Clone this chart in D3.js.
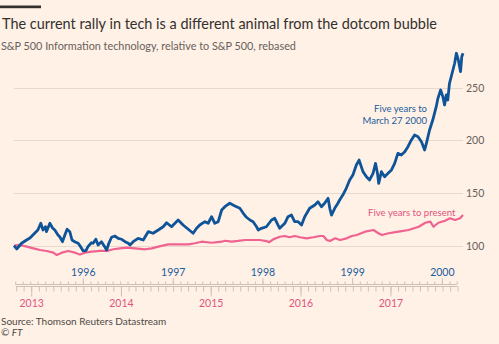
<!DOCTYPE html>
<html><head><meta charset="utf-8">
<script src="https://cdn.jsdelivr.net/npm/d3@7"></script>
<style>
html,body{margin:0;padding:0;background:#fff1e5;}
svg{display:block;}
text{font-family:Lato,"Noto Sans",sans-serif;}
</style></head>
<body><svg id="c" width="499" height="344"></svg>
<script>
// ---- data ----
const titleText = "The current rally in tech is a different animal from the dotcom bubble";
const subtitleText = "S&P 500 Information technology, relative to S&P 500, rebased";
const sourceText = "Source: Thomson Reuters Datastream";
const creditText = "© FT";
const yTicks = [100, 150, 200, 250];
const blueYearLabels = ["1996", "1997", "1998", "1999", "2000"];
const pinkYearLabels = ["2013", "2014", "2015", "2016", "2017"];
const blueDomain = ["1995-03-27", "2000-03-27"];
const pinkDomain = ["2012-10-23", "2017-10-23"];
const blueLabel = ["Five years to", "March 27 2000"];
const pinkLabel = "Five years to present";

const blueDates = ["1995-03-27","1995-04-07","1995-04-27","1995-05-17","1995-05-31","1995-06-20","1995-07-02","1995-07-14","1995-07-23","1995-08-02","1995-08-06","1995-08-20","1995-08-31","1995-09-09","1995-09-22","1995-09-29","1995-10-10","1995-10-20","1995-10-29","1995-11-09","1995-11-18","1995-11-29","1995-12-13","1995-12-23",
"1996-01-02","1996-01-13","1996-01-22","1996-02-05","1996-02-12","1996-02-23","1996-03-03","1996-03-17","1996-03-30","1996-04-07","1996-04-16","1996-04-27","1996-05-11","1996-05-24","1996-06-07","1996-06-21","1996-07-04","1996-07-11","1996-07-24","1996-08-13","1996-09-03","1996-09-23","1996-10-13","1996-11-03","1996-11-23","1996-12-07","1996-12-27",
"1997-01-23","1997-02-12","1997-03-05","1997-03-25","1997-04-08","1997-04-21","1997-05-12","1997-05-25","1997-06-08","1997-06-21","1997-07-05","1997-07-19","1997-08-01","1997-08-21","1997-09-11","1997-10-01","1997-10-15","1997-10-28","1997-11-11","1997-11-24","1997-12-08","1997-12-15","1997-12-28",
"1998-01-17","1998-02-07","1998-02-20","1998-03-05","1998-03-12","1998-04-02","1998-04-15","1998-04-29","1998-05-12","1998-05-26","1998-06-09","1998-06-22","1998-07-12","1998-08-02","1998-08-15","1998-08-29","1998-09-11","1998-09-25","1998-10-02","1998-10-09","1998-10-22","1998-11-04","1998-11-11","1998-11-24","1998-12-08","1998-12-22",
"1999-01-04","1999-01-18","1999-01-29","1999-02-14","1999-02-28","1999-03-13","1999-03-27","1999-04-06","1999-04-14","1999-04-19","1999-04-30","1999-05-13","1999-05-27","1999-06-10","1999-06-23","1999-07-06","1999-07-20","1999-08-03","1999-08-16","1999-08-30","1999-09-12","1999-09-26","1999-10-10","1999-10-23","1999-10-30","1999-11-12","1999-11-25","1999-12-09","1999-12-16","1999-12-27",
"2000-01-05","2000-01-12","2000-01-19","2000-01-25","2000-02-01","2000-02-08","2000-02-22","2000-02-29","2000-03-08","2000-03-17","2000-03-22","2000-03-27"];
const blueValues = [100,96.9,102.3,105.4,107.3,112.1,114.9,121.3,114.9,118.0,113.3,121.3,116.8,114.9,110.2,108.5,103.8,110.2,115.6,113.3,105.4,103.8,102.3,99.1,
95.3,95.0,99.1,102.8,102.3,106.1,100.7,103.8,99.1,95.9,102.3,108.0,109.2,107.0,106.1,103.8,102.3,100.7,103.8,107.0,105.4,113.3,111.8,114.9,118.0,121.8,118.0,
124.4,119.7,115.6,111.8,116.5,119.7,122.8,121.3,127.5,121.3,122.8,133.9,137.0,140.3,137.7,135.5,130.8,127.0,124.4,122.8,118.0,114.9,116.5,
118.0,124.4,126.0,119.7,116.5,121.3,127.5,129.1,122.8,122.8,119.7,127.5,135.5,138.6,141.8,137.0,140.3,145.0,135.5,129.1,135.5,140.3,143.4,148.1,154.5,162.4,
167.1,176.6,181.3,170.3,165.5,162.4,168.7,178.2,168.7,159.2,170.3,165.5,168.7,171.9,178.2,187.7,186.1,189.2,194.0,200.4,205.1,203.5,198.7,190.9,197.2,209.8,219.3,232.0,239.9,247.8,
241.5,233.6,243.1,238.3,254.2,260.4,273.2,282.7,276.3,265.2,279.4,282.7];

const pinkDates = ["2012-10-23","2012-11-17","2012-12-14","2013-01-10","2013-02-06","2013-03-05","2013-04-01","2013-04-15","2013-05-05","2013-06-01","2013-06-28","2013-07-18","2013-08-08","2013-09-04","2013-10-08","2013-11-04","2013-12-01","2013-12-28",
"2014-01-24","2014-02-27","2014-04-09","2014-05-06","2014-06-02","2014-07-12","2014-08-22","2014-10-02","2014-10-29","2014-11-25",
"2015-01-05","2015-02-15","2015-02-28","2015-03-27","2015-04-23","2015-05-20","2015-06-23","2015-07-20","2015-08-16","2015-08-26","2015-09-12","2015-10-09","2015-10-29","2015-11-18","2015-12-09","2015-12-30",
"2016-01-26","2016-02-22","2016-03-20","2016-04-03","2016-04-17","2016-04-30","2016-05-21","2016-06-10","2016-07-07","2016-07-28","2016-08-17","2016-09-20","2016-10-24","2016-11-13","2016-11-27","2016-12-24",
"2017-02-03","2017-03-16","2017-04-26","2017-05-23","2017-06-12","2017-06-25","2017-07-15","2017-08-11","2017-08-31","2017-09-21","2017-10-11","2017-10-23"];
const pinkValues = [100,100.7,99.1,97.5,95.9,95.0,93.4,91.2,93.4,95.0,93.4,91.6,93.4,94.3,95.0,95.0,96.6,97.5,
98.1,97.5,96.6,97.5,99.1,101.3,101.3,101.3,102.3,103.8,
102.8,103.8,104.7,103.8,104.5,105.4,105.4,105.4,104.4,103.3,106.0,108.5,109.2,108.0,109.2,108.0,
107.0,108.0,109.2,109.2,105.4,104.5,107.0,105.4,107.0,109.2,110.2,113.3,114.9,111.8,110.2,111.8,
113.3,114.9,118.0,121.8,122.8,118.0,121.8,123.7,126.0,124.4,126.0,129.1];

// ---- drawing ----
const svg = d3.select("#c");
const W = 499, H = 344;
const left = 14, right = 463;
const parse = d3.utcParse("%Y-%m-%d");
const bgc = "#fff1e5";
const blue = "#0f5499", pink = "#f0628f";
const blueText = "#1a5b9c", pinkText = "#e0557f";

svg.append("rect").attr("width", W).attr("height", H).attr("fill", bgc);
svg.append("rect").attr("x", 0).attr("y", 5.5).attr("width", 41).attr("height", 2.7).attr("fill", "#33302e");

function fit(sel, target) {
  let fs = parseFloat(sel.attr("font-size"));
  for (let i = 0; i < 3; i++) {
    const w = sel.node().getBBox().width;
    fs = fs * target / w;
    sel.attr("font-size", fs);
  }
}

const title = svg.append("text").attr("x", 2).attr("y", 28.5).attr("font-size", 17)
  .attr("fill", "#33302e").text(titleText);
fit(title, 435);
const sub = svg.append("text").attr("x", 1).attr("y", 50).attr("font-size", 11.5)
  .attr("fill", "#66605c").text(subtitleText);
fit(sub, 295);

const xBlue = d3.scaleUtc().domain(blueDomain.map(parse)).range([left, right]);
const xPink = d3.scaleUtc().domain(pinkDomain.map(parse)).range([left, right]);
const y = d3.scaleLinear().domain([100, 250]).range([245.7, 87.7]);

// gridlines
svg.append("g").selectAll("line").data(yTicks).join("line")
  .attr("x1", left).attr("x2", right)
  .attr("y1", d => Math.round(y(d)) + 0.5).attr("y2", d => Math.round(y(d)) + 0.5)
  .attr("stroke", "#e6d9ce").attr("stroke-width", 1);

// y labels
const yAxis = svg.append("g").attr("transform", `translate(${right},0)`)
  .call(d3.axisRight(y).tickValues(yTicks).tickSize(0).tickPadding(3));
yAxis.select(".domain").remove();
yAxis.selectAll("text").attr("font-size", 10.5).attr("fill", "#66605c")
  .style("font-family", "Lato, 'Noto Sans', sans-serif");

// axes
const axisYTop = 284.5, axisYBot = 286.5;
const bMonths = d3.utcMonth.range(xBlue.domain()[0], xBlue.domain()[1]);
const pMonths = d3.utcMonth.range(xPink.domain()[0], xPink.domain()[1]);
const bYears = d3.utcYear.range(xBlue.domain()[0], xBlue.domain()[1]);
const pYears = d3.utcYear.range(xPink.domain()[0], xPink.domain()[1]);
const axisCol = "#cdc1b6";

svg.append("line").attr("x1", xBlue(bMonths[0])).attr("x2", xBlue(bMonths[bMonths.length-1]))
  .attr("y1", axisYTop).attr("y2", axisYTop).attr("stroke", axisCol).attr("stroke-width", 1);
svg.append("line").attr("x1", xPink(pMonths[0])).attr("x2", xPink(pMonths[pMonths.length-1]))
  .attr("y1", axisYBot).attr("y2", axisYBot).attr("stroke", axisCol).attr("stroke-width", 1);

function styleAxis(g, col, fs) {
  g.select(".domain").remove();
  g.selectAll("line").attr("stroke", axisCol);
  g.selectAll("text").attr("fill", col).attr("font-size", fs)
    .style("font-family", "Lato, 'Noto Sans', sans-serif");
}
const gbm = svg.append("g").attr("transform", `translate(0,${axisYTop})`)
  .call(d3.axisTop(xBlue).tickValues(bMonths).tickSize(3).tickFormat(""));
styleAxis(gbm, blueText, 11);
const gby = svg.append("g").attr("transform", `translate(0,${axisYTop})`)
  .call(d3.axisTop(xBlue).tickValues(bYears).tickSize(6.5).tickPadding(2)
    .tickFormat((d, i) => blueYearLabels[i]));
styleAxis(gby, blueText, 10.5);
const gpm = svg.append("g").attr("transform", `translate(0,${axisYBot})`)
  .call(d3.axisBottom(xPink).tickValues(pMonths).tickSize(5).tickFormat(""));
styleAxis(gpm, pinkText, 11);
const gpy = svg.append("g").attr("transform", `translate(0,${axisYBot})`)
  .call(d3.axisBottom(xPink).tickValues(pYears).tickSize(10).tickPadding(3.5)
    .tickFormat((d, i) => pinkYearLabels[i]));
styleAxis(gpy, pinkText, 10.5);

// lines
const pinkData = pinkDates.map((d, i) => ({ d: parse(d), v: pinkValues[i] }));
const blueData = blueDates.map((d, i) => ({ d: parse(d), v: blueValues[i] }));
svg.append("path").datum(pinkData)
  .attr("d", d3.line().x(p => xPink(p.d)).y(p => y(p.v)))
  .attr("fill", "none").attr("stroke", pink).attr("stroke-width", 2.2).attr("stroke-linejoin", "round");
svg.append("path").datum(blueData)
  .attr("d", d3.line().x(p => xBlue(p.d)).y(p => y(p.v)))
  .attr("fill", "none").attr("stroke", blue).attr("stroke-width", 2.8).attr("stroke-linejoin", "round");

// annotations
const bl = svg.append("text").attr("text-anchor", "end").attr("font-size", 11).attr("fill", blueText);
bl.selectAll("tspan").data(blueLabel).join("tspan")
  .attr("x", 427).attr("y", (d, i) => 112 + i * 11.5).text(d => d);
fit(bl, 65);
const pl = svg.append("text").attr("text-anchor", "end").attr("x", 455.5).attr("y", 215.5)
  .attr("font-size", 11).attr("fill", pinkText).text(pinkLabel);
fit(pl, 88);

// footer
svg.append("text").attr("x", 1).attr("y", 325).attr("font-size", 10).attr("fill", "#4d4845").text(sourceText);
svg.append("text").attr("x", 1).attr("y", 336).attr("font-size", 10).attr("font-style", "italic")
  .attr("fill", "#4d4845").text(creditText);
</script></body></html>
